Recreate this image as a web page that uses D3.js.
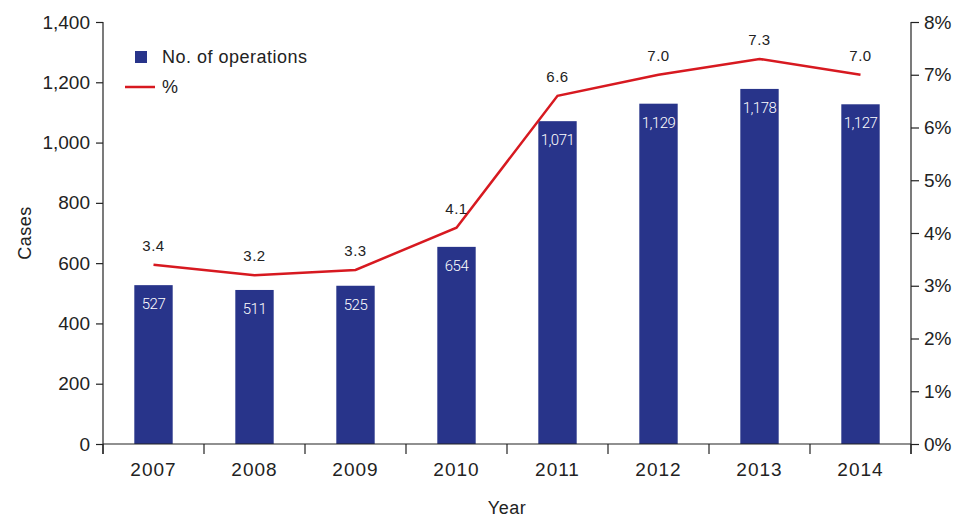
<!DOCTYPE html>
<html>
<head>
<meta charset="utf-8">
<script src="https://cdn.jsdelivr.net/npm/d3@7"></script>
<style>
  body { margin: 0; background: #fff; }
  text { font-family: "Liberation Sans", Arial, sans-serif; fill: #222; }
  .axis path, .axis line { stroke: #222; stroke-width: 1.2; }
</style>
</head>
<body>
<svg class="chart" width="968" height="518"></svg>
<script>
// data
var years = ['2007', '2008', '2009', '2010', '2011', '2012', '2013', '2014'];
var operations = [527, 511, 525, 654, 1071, 1129, 1178, 1127];
var percents = [3.4, 3.2, 3.3, 4.1, 6.6, 7.0, 7.3, 7.0];
var leftTicks = [0, 200, 400, 600, 800, 1000, 1200, 1400];
var rightTicks = [0, 1, 2, 3, 4, 5, 6, 7, 8];

var svg = d3.select('svg.chart');
var padding = {t: 22, r: 57, b: 74, l: 103};
var chartWidth = 968 - padding.l - padding.r;
var chartHeight = 518 - padding.t - padding.b;

var xScale = d3.scaleBand().domain(years).range([0, chartWidth]).paddingInner(0.62).paddingOuter(0.31);
var xBand = d3.scaleBand().domain(years).range([0, chartWidth]);
var yScale = d3.scaleLinear().domain([0, 1400]).range([chartHeight, 0]);
var pScale = d3.scaleLinear().domain([0, 8]).range([chartHeight, 0]);

var chartG = svg.append('g')
    .attr('transform', 'translate(' + [padding.l, padding.t] + ')');

// bars
chartG.selectAll('.bar')
    .data(operations)
    .enter().append('rect')
    .attr('class', 'bar')
    .attr('x', function(d, i) { return xScale(years[i]); })
    .attr('y', function(d) { return yScale(d); })
    .attr('width', xScale.bandwidth())
    .attr('height', function(d) { return chartHeight - yScale(d); })
    .style('fill', '#28348a');

chartG.selectAll('.bar-label')
    .data(operations)
    .enter().append('text')
    .attr('class', 'bar-label')
    .attr('x', function(d, i) { return xScale(years[i]) + xScale.bandwidth() / 2; })
    .attr('y', function(d) { return yScale(d) + 24; })
    .attr('text-anchor', 'middle')
    .style('font-size', '15px')
    .style('font-family', 'Roboto, sans-serif')
    .style('font-weight', '300')
    .style('letter-spacing', '-0.5px')
    .style('fill', '#fff')
    .text(function(d) { return d3.format(',')(d); });

// axes
var xAxisG = chartG.append('g')
    .attr('class', 'x axis')
    .attr('transform', 'translate(0,' + chartHeight + ')');
xAxisG.append('line').attr('x1', 0).attr('x2', chartWidth);
xAxisG.selectAll('.tick-mark')
    .data(years.concat(['end']))
    .enter().append('line')
    .attr('x1', function(d, i) { return i * xBand.bandwidth(); })
    .attr('x2', function(d, i) { return i * xBand.bandwidth(); })
    .attr('y1', 0).attr('y2', 10);
xAxisG.selectAll('.tick-label')
    .data(years)
    .enter().append('text')
    .attr('x', function(d) { return xBand(d) + xBand.bandwidth() / 2; })
    .attr('y', 32)
    .attr('text-anchor', 'middle')
    .style('font-size', '19px')
    .style('letter-spacing', '1px')
    .text(function(d) { return d; });

var yAxisG = chartG.append('g')
    .attr('class', 'y axis')
    .call(d3.axisLeft(yScale).tickValues(leftTicks).tickSize(7).tickPadding(6).tickFormat(d3.format(',')));
yAxisG.select('.domain').attr('d', 'M0,0V' + (chartHeight + 10));
yAxisG.selectAll('text').style('font-size', '19px').style('fill', '#222');

var pAxisG = chartG.append('g')
    .attr('class', 'p axis')
    .attr('transform', 'translate(' + chartWidth + ',0)')
    .call(d3.axisRight(pScale).tickValues(rightTicks).tickSize(8).tickPadding(5).tickFormat(function(d) { return d + '%'; }));
pAxisG.select('.domain').attr('d', 'M0,0V' + (chartHeight + 10));
pAxisG.selectAll('text').style('font-size', '19px').style('fill', '#222');
svg.selectAll('.axis').attr('font-family', null);

// percent line
var line = d3.line()
    .x(function(d, i) { return xBand(years[i]) + xBand.bandwidth() / 2; })
    .y(function(d) { return pScale(d); });
chartG.append('path')
    .datum(percents)
    .attr('d', line)
    .style('fill', 'none')
    .style('stroke', '#d71920')
    .style('stroke-width', 2.5);

chartG.selectAll('.p-label')
    .data(percents)
    .enter().append('text')
    .attr('x', function(d, i) { return xBand(years[i]) + xBand.bandwidth() / 2; })
    .attr('y', function(d) { return pScale(d) - 14; })
    .attr('text-anchor', 'middle')
    .style('font-size', '15px')
    .style('letter-spacing', '0.5px')
    .text(function(d) { return d3.format('.1f')(d); });

// axis titles
svg.append('text')
    .attr('transform', 'translate(31,' + (padding.t + chartHeight / 2) + ') rotate(-90)')
    .attr('text-anchor', 'middle')
    .style('font-size', '18px')
    .style('letter-spacing', '0.5px')
    .text('Cases');
svg.append('text')
    .attr('x', padding.l + chartWidth / 2)
    .attr('y', 514)
    .attr('text-anchor', 'middle')
    .style('font-size', '18px')
    .style('letter-spacing', '0.5px')
    .text('Year');

// legend
var legendG = svg.append('g').attr('transform', 'translate(125,57)');
legendG.append('rect').attr('x', 10).attr('y', -6).attr('width', 12).attr('height', 12).style('fill', '#28348a');
legendG.append('text').attr('x', 37).attr('y', 6).style('font-size', '18px').style('letter-spacing', '0.5px').text('No. of operations');
legendG.append('line').attr('x1', 0).attr('x2', 30).attr('y1', 30).attr('y2', 30)
    .style('stroke', '#d71920').style('stroke-width', 2.5);
legendG.append('text').attr('x', 37).attr('y', 36).style('font-size', '18px').text('%');
</script>
</body>
</html>
